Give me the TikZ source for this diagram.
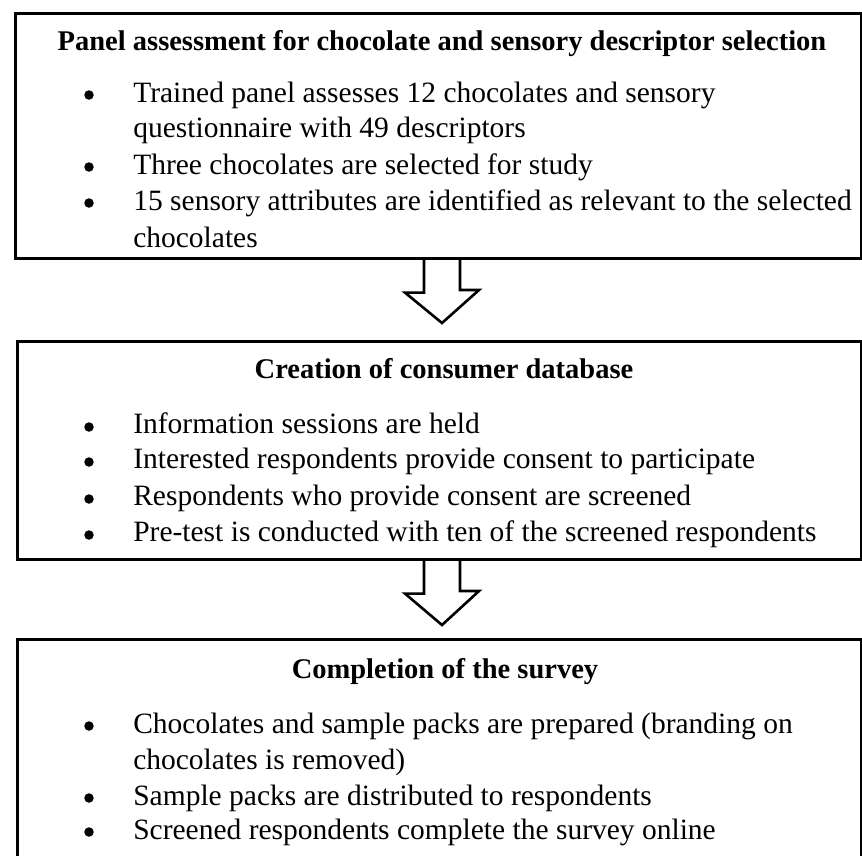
\documentclass[tikz,border=0pt]{standalone}
\usepackage{fontspec}
\setmainfont{Liberation Serif}

\begin{document}
\begin{tikzpicture}[x=1pt, y=-1pt, line width=2.6pt,
  stage/.style={draw, anchor=north west, inner sep=0pt},
  heading/.style={anchor=base, inner sep=0pt, font=\fontsize{28.5}{33}\selectfont\bfseries},
  entry/.style={anchor=base west, inner sep=0pt, font=\fontsize{29.5}{34}\selectfont},
  dot/.style={circle, fill, inner sep=0pt, minimum size=9.5pt},
  hollow/.style={draw, line join=miter}]
\useasboundingbox (0,0) rectangle (862,855);
\clip (0,0) rectangle (862,855);
% panel assessment
\node[stage, minimum width=846pt, minimum height=245pt] (panel) at (14,12) {};
\node[heading] (panelhead) at (442,50) {Panel assessment for chocolate and sensory descriptor selection};
\foreach \y/\t [count=\i] in {102/Trained panel assesses 12 chocolates and sensory,
  137/questionnaire with 49 descriptors, 174/Three chocolates are selected for study,
  210/15 sensory attributes are identified as relevant to the selected, 247/chocolates}{
	\node[entry] (panel\i) at (132,\y) {\t};
}
\foreach \y [count=\i] in {95,167,203}{
	\node[dot] (paneldot\i) at (89,\y) {};
}
% consumer database
\node[stage, minimum width=844pt, minimum height=218pt] (base) at (16,340) {};
\node[heading] (basehead) at (444,378) {Creation of consumer database};
\foreach \y/\t [count=\i] in {433/Information sessions are held,
  468/Interested respondents provide consent to participate,
  505/Respondents who provide consent are screened,
  541/Pre-test is conducted with ten of the screened respondents}{
	\node[entry] (base\i) at (132,\y) {\t};
	\node[dot] (basedot\i) at (89,\y-6) {};
}
% survey
\node[stage, minimum width=844pt, minimum height=245pt] (survey) at (16,638) {};
\node[heading] (surveyhead) at (445,678) {Completion of the survey};
\foreach \y/\t [count=\i] in {733/Chocolates and sample packs are prepared (branding on,
  769/chocolates is removed), 805/Sample packs are distributed to respondents,
  839/Screened respondents complete the survey online}{
	\node[entry] (survey\i) at (132,\y) {\t};
}
\foreach \y [count=\i] in {726,798,832}{
	\node[dot] (surveydot\i) at (89,\y) {};
}
% arrows
\coordinate (tip1) at (442,323);
\coordinate (tip2) at (442,625);
\draw[hollow] (panel.south -| tip1) ++(-18,0) -- ++(0,33) -- ++(-19,0) -- (tip1) -- ++(37,-33) -- ++(-19,0) -- ++(0,-33);
\draw[hollow] (base.south -| tip2) ++(-18,0) -- ++(0,33) -- ++(-19,0) -- (tip2) -- ++(37,-34) -- ++(-19,0) -- ++(0,-33);
\end{tikzpicture}
\end{document}
